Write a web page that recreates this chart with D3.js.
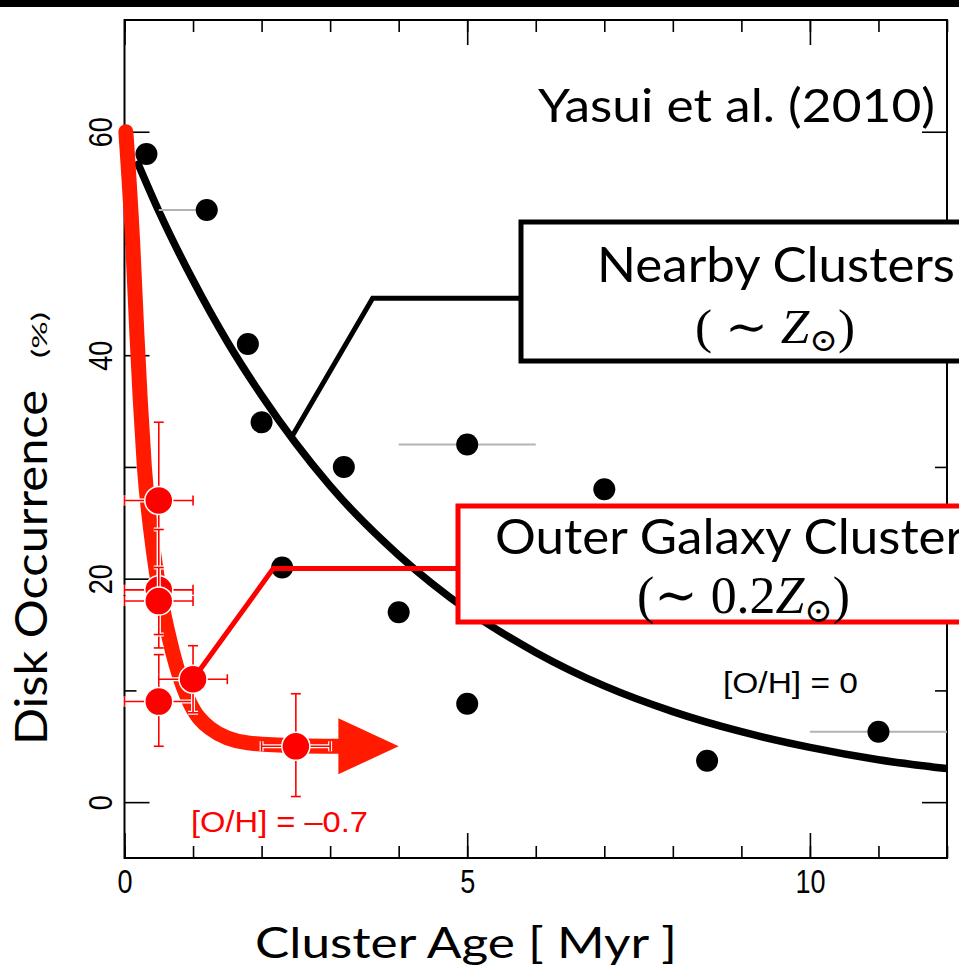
<!DOCTYPE html>
<html>
<head>
<meta charset="utf-8">
<script src="https://cdn.jsdelivr.net/npm/d3@7"></script>
<style>
  body { margin: 0; background: #fff; }
  svg { display: block; }
</style>
</head>
<body>
<svg id="chart" width="959" height="973"></svg>
<script>
// ---- Nearby clusters (solar metallicity) ----
const nearbyAges      = [0.32, 1.2, 1.8, 2.0, 2.3, 3.2, 4.0, 5.0, 5.0, 7.0, 8.5, 11.0];
const nearbyFractions = [58, 53, 41, 34, 21, 30, 17, 32, 8.8, 28, 3.7, 6.3];
const nearbyAgeLo     = [null, 0.5, null, null, null, null, null, 4.0, null, null, null, 10.0];
const nearbyAgeHi     = [null, 1.2, null, null, null, null, null, 6.0, null, null, null, 12.5];

// exponential decay fitted to the nearby clusters
const nearbyFitAges   = [0.2, 0.5, 1, 1.5, 2, 3, 4, 5, 6, 7, 8, 9, 10, 11, 12];
const nearbyFitValues = [57.1, 52.9, 46.7, 41.2, 36.4, 28.3, 22.1, 17.2, 13.4, 10.4, 8.1, 6.3, 4.9, 3.8, 3.0];

// ---- Outer Galaxy clusters (low metallicity) ----
const outerAges      = [0.5, 0.5, 0.5, 0.5, 1.0, 2.5];
const outerFractions = [27, 19, 18, 9, 11, 5];
const outerAgeLo     = [0, 0, 0, 0, 0.5, 2.0];
const outerAgeHi     = [1.0, 1.0, 1.0, 1.0, 1.5, 3.0];
const outerFracLo    = [20, 13.8, 15, 5, 8, 0.5];
const outerFracHi    = [34, 24.4, 21, 13.2, 14, 9.7];

// hand-drawn trend for the outer Galaxy clusters
const outerTrendAges   = [0.02, 0.12, 0.18, 0.23, 0.29, 0.39, 0.48, 0.7, 0.93, 1.25, 1.8, 2.5, 3.12];
const outerTrendValues = [60, 50, 42, 36, 30, 24, 20, 13.5, 9.2, 6.6, 5.3, 5.05, 5.0];
const outerArrowTip = 4.0;

// ---- axis ticks ----
const xMinorTicks = d3.range(0, 13);
const xMajorTicks = [0, 5, 10];
const yMinorTicks = [10, 30, 50];
const yMajorTicks = [0, 20, 40, 60];

const W = 959, H = 973;
const RED = "#ff0000", TREND_RED = "#ff1a00", GREY = "#b3b3b3";
const gothic = "Lato, 'Open Sans', sans-serif";
const narrow = "'Liberation Sans Narrow', 'Liberation Sans', Arial, sans-serif";
const mathFont = "'Liberation Serif', 'DejaVu Serif', serif";

const svg = d3.select("#chart");
svg.append("rect").attr("width", W).attr("height", H).attr("fill", "#fff");
svg.append("rect").attr("width", W).attr("height", 7).attr("fill", "#000");

const x = d3.scaleLinear().domain([0, 12]).range([124.5, 947]);
const y = d3.scaleLinear().domain([-5, 70]).range([858, 20]);
const [x0, x1] = x.range();
const [yb, yt] = y.range();

svg.append("defs").append("clipPath").attr("id", "plot")
  .append("rect").attr("x", x0).attr("y", yt).attr("width", x1 - x0).attr("height", yb - yt);

// ---- axes with inward ticks on all four sides ----
function styleAxis(g) {
  g.select(".domain").remove();
  g.selectAll(".tick line").attr("stroke", "#000").attr("stroke-width", 1.6);
}
// condensed tick numerals
function tickText(g) {
  g.selectAll("text").attr("font-family", narrow).attr("font-size", 33).attr("fill", "#000");
}
const axes = svg.append("g");
axes.append("g").attr("transform", `translate(0,${yb})`)
  .call(d3.axisBottom(x).tickValues(xMinorTicks).tickSize(-12).tickFormat("")).call(styleAxis);
axes.append("g").attr("transform", `translate(0,${yb})`)
  .call(d3.axisBottom(x).tickValues(xMajorTicks).tickSize(-25).tickPadding(12).tickFormat(d3.format("d")))
  .call(styleAxis).call(tickText)
  .call(g => g.selectAll("text").attr("transform", "scale(0.82,1)"));
axes.append("g").attr("transform", `translate(0,${yt})`)
  .call(d3.axisTop(x).tickValues(xMinorTicks).tickSize(-12).tickFormat("")).call(styleAxis);
axes.append("g").attr("transform", `translate(0,${yt})`)
  .call(d3.axisTop(x).tickValues(xMajorTicks).tickSize(-25).tickFormat("")).call(styleAxis);
axes.append("g").attr("transform", `translate(${x0},0)`)
  .call(d3.axisLeft(y).tickValues(yMinorTicks).tickSize(-12).tickFormat("")).call(styleAxis);
axes.append("g").attr("transform", `translate(${x0},0)`)
  .call(d3.axisLeft(y).tickValues(yMajorTicks).tickSize(-25).tickFormat(d3.format("d")))
  .call(styleAxis).call(tickText)
  .call(g => g.selectAll("text")
    .attr("text-anchor", "middle").attr("dy", null)
    .attr("x", 0).attr("y", -13).attr("transform", "rotate(-90) scale(0.82,1)"));
axes.append("g").attr("transform", `translate(${x1},0)`)
  .call(d3.axisRight(y).tickValues(yMinorTicks).tickSize(-12).tickFormat("")).call(styleAxis);
axes.append("g").attr("transform", `translate(${x1},0)`)
  .call(d3.axisRight(y).tickValues(yMajorTicks).tickSize(-25).tickFormat("")).call(styleAxis);
axes.append("rect").attr("x", x0).attr("y", yt).attr("width", x1 - x0).attr("height", yb - yt)
  .attr("fill", "none").attr("stroke", "#000").attr("stroke-width", 2);

// axis titles
svg.append("text").attr("x", 466).attr("y", 958)
  .attr("text-anchor", "middle").attr("font-family", gothic).attr("font-size", 42)
  .attr("textLength", 422).attr("lengthAdjust", "spacingAndGlyphs")
  .text("Cluster Age [ Myr ]");
const yTitle = svg.append("g").attr("transform", "translate(47,745) rotate(-90)");
yTitle.append("text").attr("x", 0).attr("y", 0)
  .attr("font-family", gothic).attr("font-size", 44)
  .attr("textLength", 355).attr("lengthAdjust", "spacingAndGlyphs")
  .text("Disk Occurrence");
yTitle.append("text").attr("x", 387).attr("y", 0)
  .attr("font-family", gothic).attr("font-size", 21)
  .attr("textLength", 46).attr("lengthAdjust", "spacingAndGlyphs")
  .text("(%)");

// ---- nearby clusters: fit, age ranges, points ----
const plot = svg.append("g").attr("clip-path", "url(#plot)");
const fitLine = d3.line().x(d => x(d[0])).y(d => y(d[1])).curve(d3.curveMonotoneX);
plot.append("path")
  .datum(d3.zip(nearbyFitAges, nearbyFitValues))
  .attr("d", fitLine).attr("fill", "none").attr("stroke", "#000")
  .attr("stroke-width", 7.5).attr("stroke-linecap", "round");

const nearby = nearbyAges.map((a, i) => ({ age: a, frac: nearbyFractions[i], lo: nearbyAgeLo[i], hi: nearbyAgeHi[i] }));
plot.selectAll("line.range").data(nearby.filter(d => d.lo !== null)).join("line")
  .attr("class", "range")
  .attr("x1", d => x(d.lo)).attr("x2", d => x(d.hi))
  .attr("y1", d => y(d.frac)).attr("y2", d => y(d.frac))
  .attr("stroke", GREY).attr("stroke-width", 2);
plot.selectAll("circle.nearby").data(nearby).join("circle")
  .attr("class", "nearby")
  .attr("cx", d => x(d.age)).attr("cy", d => y(d.frac)).attr("r", 11).attr("fill", "#000");

// ---- outer Galaxy clusters: trend arrow, error bars, points ----
const trend = d3.zip(outerTrendAges, outerTrendValues);
svg.append("path").datum(trend)
  .attr("d", fitLine).attr("fill", "none").attr("stroke", TREND_RED)
  .attr("stroke-width", 15).attr("stroke-linecap", "round").attr("stroke-linejoin", "round");
const last = trend[trend.length - 1];
svg.append("path")
  .attr("d", `M${x(last[0])},${y(last[1]) - 28}L${x(outerArrowTip)},${y(last[1])}L${x(last[0])},${y(last[1]) + 28}Z`)
  .attr("fill", TREND_RED);

const outer = outerAges.map((a, i) => ({
  age: a, frac: outerFractions[i],
  aLo: outerAgeLo[i], aHi: outerAgeHi[i], fLo: outerFracLo[i], fHi: outerFracHi[i]
}));
const cap = 5;
function errorSegments(d) {
  const cx = x(d.age), cy = y(d.frac);
  return [
    [x(d.aLo), cy, x(d.aHi), cy],
    [cx, y(d.fLo), cx, y(d.fHi)],
    [x(d.aLo), cy - cap, x(d.aLo), cy + cap],
    [x(d.aHi), cy - cap, x(d.aHi), cy + cap],
    [cx - cap, y(d.fLo), cx + cap, y(d.fLo)],
    [cx - cap, y(d.fHi), cx + cap, y(d.fHi)]
  ];
}
const pts = svg.append("g");
outer.forEach(d => {
  const g = pts.append("g");
  const segs = errorSegments(d);
  g.selectAll("line.halo").data(segs).join("line").attr("class", "halo")
    .attr("x1", s => s[0]).attr("y1", s => s[1]).attr("x2", s => s[2]).attr("y2", s => s[3])
    .attr("stroke", "#fff").attr("stroke-width", 4);
  g.selectAll("line.bar").data(segs).join("line").attr("class", "bar")
    .attr("x1", s => s[0]).attr("y1", s => s[1]).attr("x2", s => s[2]).attr("y2", s => s[3])
    .attr("stroke", RED).attr("stroke-width", 1.6);
  g.append("circle").attr("cx", x(d.age)).attr("cy", y(d.frac)).attr("r", 14)
    .attr("fill", RED).attr("stroke", "#fff").attr("stroke-width", 1.5);
});

// ---- labels ----
svg.append("text").attr("x", 723).attr("y", 693)
  .attr("font-family", "'Liberation Sans', Arial, sans-serif").attr("font-size", 30)
  .attr("textLength", 135).attr("lengthAdjust", "spacingAndGlyphs")
  .text("[O/H] = 0");
svg.append("text").attr("x", 191).attr("y", 832).attr("fill", RED)
  .attr("font-family", "'Liberation Sans', Arial, sans-serif").attr("font-size", 30)
  .attr("textLength", 177).attr("lengthAdjust", "spacingAndGlyphs")
  .text("[O/H] = \u20130.7");
svg.append("text").attr("x", 538).attr("y", 122)
  .attr("font-family", gothic).attr("font-size", 47)
  .attr("textLength", 397).attr("lengthAdjust", "spacingAndGlyphs")
  .text("Yasui et al. (2010)");

// ---- callout: nearby clusters ----
const nearbyAnchor = [2.45, 32.8], nearbyElbow = [3.62, 45.1];
svg.append("polyline")
  .attr("points", [[x(nearbyAnchor[0]), y(nearbyAnchor[1])], [x(nearbyElbow[0]), y(nearbyElbow[1])], [523, y(nearbyElbow[1])]].map(p => p.join(",")).join(" "))
  .attr("fill", "none").attr("stroke", "#000").attr("stroke-width", 5);
svg.append("rect").attr("x", 521).attr("y", 222).attr("width", 520).attr("height", 139)
  .attr("fill", "#fff").attr("stroke", "#000").attr("stroke-width", 5);
const nearbyTitle = svg.append("text").attr("x", 597).attr("y", 282)
  .attr("font-family", gothic).attr("font-size", 48)
  .text("Nearby Clusters");
const naturalNearby = nearbyTitle.node().getComputedTextLength();
const stretch = 358 / naturalNearby;
nearbyTitle.attr("textLength", 358).attr("lengthAdjust", "spacingAndGlyphs");
const m1 = svg.append("text").attr("x", 695).attr("y", 343)
  .attr("font-family", mathFont).attr("font-size", 48)
  .attr("textLength", 160).attr("lengthAdjust", "spacingAndGlyphs");
m1.append("tspan").text("( \u223C ");
m1.append("tspan").attr("font-style", "italic").text("Z");
m1.append("tspan").attr("font-size", 32).attr("dy", 8).text("\u2299");
m1.append("tspan").attr("dy", -8).text(")");

// ---- callout: outer Galaxy clusters ----
const outerElbow = [2.17, 20.9];
svg.append("polyline")
  .attr("points", [[x(outerAges[4]), y(outerFractions[4])], [x(outerElbow[0]), y(outerElbow[1])], [460, y(outerElbow[1])]].map(p => p.join(",")).join(" "))
  .attr("fill", "none").attr("stroke", RED).attr("stroke-width", 5);
svg.append("rect").attr("x", 458).attr("y", 506).attr("width", 560).attr("height", 116)
  .attr("fill", "#fff").attr("stroke", RED).attr("stroke-width", 5);
const outerTitle = svg.append("text").attr("x", 495).attr("y", 554)
  .attr("font-family", gothic).attr("font-size", 48)
  .text("Outer Galaxy Clusters");
outerTitle.attr("textLength", outerTitle.node().getComputedTextLength() * stretch)
  .attr("lengthAdjust", "spacingAndGlyphs");
const m2 = svg.append("text").attr("x", 637).attr("y", 613)
  .attr("font-family", mathFont).attr("font-size", 52)
  .attr("textLength", 213).attr("lengthAdjust", "spacingAndGlyphs");
m2.append("tspan").text("(\u223C 0.2");
m2.append("tspan").attr("font-style", "italic").text("Z");
m2.append("tspan").attr("font-size", 34).attr("dy", 9).text("\u2299");
m2.append("tspan").attr("dy", -9).text(")");
</script>
</body>
</html>
